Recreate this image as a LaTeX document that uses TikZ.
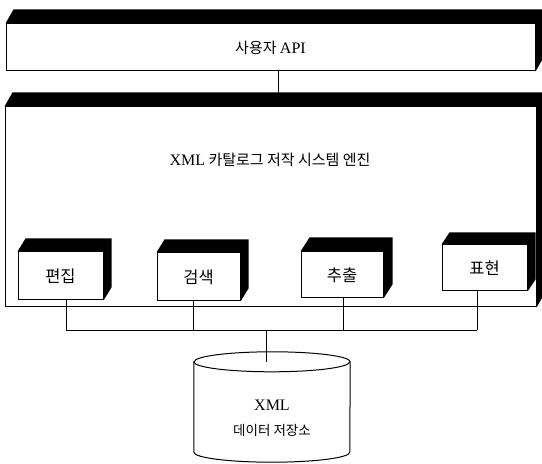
\documentclass[tikz,border=0pt]{standalone}
\usepackage{fontspec}
\setmainfont{Liberation Serif}
\newfontfamily\kr{Noto Sans CJK KR}
\newcommand\lat[1]{{\rmfamily\fontsize{16}{18}\selectfont #1}}
\newcommand\boxthreed[3]{%
  \fill (#1.north west) -- ++(#2,#3) -- ([shift={(#2,#3)}]#1.north east)
    -- ([shift={(#2,#3)}]#1.south east) -- (#1.south east) -- (#1.north east) -- cycle;}
\begin{document}
\begin{tikzpicture}[x=1pt,y=1pt,
  front/.style={draw=black, fill=white, line width=1pt, inner sep=0pt},
  conn/.style={line width=0.9pt},
  lbl/.style={font=\kr\fontsize{15}{17}\selectfont},
  mlbl/.style={font=\kr\fontsize{16.5}{18}\selectfont},
  dblbl/.style={font=\kr\fontsize{13.5}{15}\selectfont},
]
\useasboundingbox (0,0) rectangle (542,464);
\clip (0,0) rectangle (542,464);

% user API box
\node[front, lbl, minimum width=529, minimum height=47] (api) at (270.5,416.5) {사용자 \lat{API}};
\boxthreed{api}{8}{14}

% engine box
\node[front, minimum width=531, minimum height=200] (engine) at (270.5,257) {};
\boxthreed{engine}{8}{14}
\node[lbl] (etitle) at (270,304) {\lat{XML} 카탈로그 저작 시스템 엔진};

% module boxes
\node[front, mlbl, minimum width=85, minimum height=48] (m1) at (60.5,188) {편집};
\boxthreed{m1}{8}{13}
\node[front, mlbl, minimum width=83, minimum height=48] (m2) at (198.5,187) {검색};
\boxthreed{m2}{8}{13}
\node[front, mlbl, minimum width=82, minimum height=46] (m3) at (342,189) {추출};
\boxthreed{m3}{9}{14}
\node[front, mlbl, minimum width=85, minimum height=46] (m4) at (484.5,196) {표현};
\boxthreed{m4}{8}{12}

% API -> engine connector
\coordinate (etop) at (278,371);
\draw[conn] (api.south -| etop) -- (etop);

% data store cylinder
\node[minimum width=156, minimum height=90, inner sep=0pt] (db) at (272,57) {};
\draw[line width=1pt, fill=white] (db.north west) -- (db.south west)
  arc[start angle=180, end angle=360, x radius=78, y radius=10] -- (db.north east)
  arc[start angle=0, end angle=180, x radius=78, y radius=10] -- cycle;
\draw[line width=1pt] (db.north west) arc[start angle=180, end angle=360, x radius=78, y radius=10];
\node (dbt1) at (272,59) {\lat{XML}};
\node[dblbl] (dbt2) at (272,34) {데이터 저장소};

% bus
\coordinate (j1) at (66,134);
\coordinate (j2) at (193,134);
\coordinate (j3) at (343,134);
\coordinate (j4) at (477,134);
\coordinate (jc) at (266,134);
\draw[conn] (m1.south -| j1) -- (j1);
\draw[conn] (m2.south -| j2) -- (j2);
\draw[conn] (m3.south -| j3) -- (j3);
\draw[conn] (m4.south -| j4) -- (j4);
\draw[conn] (j1) -- (j4);
\draw[conn] (jc) -- (jc |- db.north);
\end{tikzpicture}
\end{document}
